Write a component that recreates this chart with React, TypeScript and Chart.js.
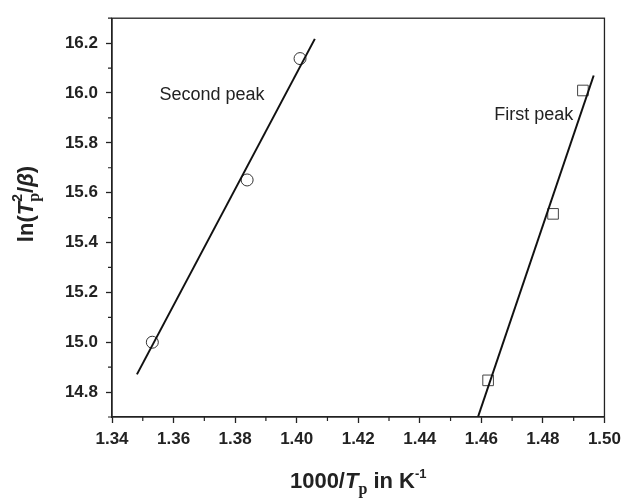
import React, { useEffect, useRef } from "react";
import { Chart, registerables } from "chart.js";

Chart.register(...registerables);

// Measured data points
const SECOND_X = [1.3531, 1.3839, 1.4011];
const SECOND_Y = [15.0, 15.651, 16.138];
const FIRST_X = [1.4622, 1.4833, 1.493];
const FIRST_Y = [14.847, 15.515, 16.01];

// Linear fit lines (end points)
const SECOND_FIT_X = [1.3481, 1.4059];
const SECOND_FIT_Y = [14.871, 16.217];
const FIRST_FIT_X = [1.4589, 1.4965];
const FIRST_FIT_Y = [14.7, 16.07];

// Axis ticks
const X_MAJOR = [1.34, 1.36, 1.38, 1.4, 1.42, 1.44, 1.46, 1.48, 1.5];
const X_MINOR = [1.35, 1.37, 1.39, 1.41, 1.43, 1.45, 1.47, 1.49];
const Y_MAJOR = [14.8, 15.0, 15.2, 15.4, 15.6, 15.8, 16.0, 16.2];
const Y_MINOR = [14.7, 14.9, 15.1, 15.3, 15.5, 15.7, 15.9, 16.1, 16.3];

// Annotations
const LABELS = [
  { text: "Second peak", x: 1.3554, y: 15.97 },
  { text: "First peak", x: 1.4642, y: 15.89 },
];

const SANS = "'Liberation Sans', Arial, Helvetica, sans-serif";
const SERIF = "'Liberation Serif', 'Times New Roman', serif";
const INK = "#222";

type Piece = { t: string; font: string; dy: number; stackWithNext?: boolean };

function drawPieces(ctx: CanvasRenderingContext2D, pieces: Piece[], x0: number, y0: number) {
  let x = x0;
  let i = 0;
  while (i < pieces.length) {
    const p = pieces[i];
    ctx.font = p.font;
    const w = ctx.measureText(p.t).width;
    ctx.fillText(p.t, x, y0 + p.dy);
    if (p.stackWithNext && i + 1 < pieces.length) {
      const q = pieces[i + 1];
      ctx.font = q.font;
      const w2 = ctx.measureText(q.t).width;
      ctx.fillText(q.t, x, y0 + q.dy);
      x += Math.max(w, w2);
      i += 2;
    } else {
      x += w;
      i += 1;
    }
  }
  return x - x0;
}

function measurePieces(ctx: CanvasRenderingContext2D, pieces: Piece[]) {
  let total = 0;
  let i = 0;
  while (i < pieces.length) {
    const p = pieces[i];
    ctx.font = p.font;
    const w = ctx.measureText(p.t).width;
    if (p.stackWithNext && i + 1 < pieces.length) {
      ctx.font = pieces[i + 1].font;
      const w2 = ctx.measureText(pieces[i + 1].t).width;
      total += Math.max(w, w2);
      i += 2;
    } else {
      total += w;
      i += 1;
    }
  }
  return total;
}

const decorPlugin = {
  id: "decor",
  afterDraw(chart: any) {
    const { ctx, chartArea, scales } = chart;
    const xs = scales.x;
    const ys = scales.y;
    ctx.save();
    // frame
    ctx.strokeStyle = INK;
    ctx.lineWidth = 1.3;
    ctx.strokeRect(chartArea.left, chartArea.top, chartArea.right - chartArea.left, chartArea.bottom - chartArea.top);
    // minor ticks
    ctx.lineWidth = 1.2;
    ctx.beginPath();
    X_MINOR.forEach((v) => {
      const px = xs.getPixelForValue(v);
      ctx.moveTo(px, chartArea.bottom);
      ctx.lineTo(px, chartArea.bottom + 4);
    });
    Y_MINOR.forEach((v) => {
      const py = ys.getPixelForValue(v);
      ctx.moveTo(chartArea.left, py);
      ctx.lineTo(chartArea.left - 4, py);
    });
    ctx.stroke();

    // annotations
    ctx.fillStyle = INK;
    ctx.textBaseline = "alphabetic";
    ctx.textAlign = "left";
    ctx.font = `18px ${SANS}`;
    LABELS.forEach((l) => {
      ctx.fillText(l.text, xs.getPixelForValue(l.x), ys.getPixelForValue(l.y));
    });

    // x title: 1000/T_p in K^-1
    const xPieces: Piece[] = [
      { t: "1000/", font: `bold 22px ${SANS}`, dy: 0 },
      { t: "T", font: `italic bold 22px ${SANS}`, dy: 0 },
      { t: "p", font: `bold 16px ${SERIF}`, dy: 6 },
      { t: " in K", font: `bold 22px ${SANS}`, dy: 0 },
      { t: "-1", font: `bold 13px ${SANS}`, dy: -10 },
    ];
    const xw = measurePieces(ctx, xPieces);
    const xc = (chartArea.left + chartArea.right) / 2;
    drawPieces(ctx, xPieces, xc - xw / 2, 488);

    // y title: ln(T_p^2/β)
    const yPieces: Piece[] = [
      { t: "ln(", font: `bold 22px ${SANS}`, dy: 0 },
      { t: "T", font: `italic bold 22px ${SANS}`, dy: 0 },
      { t: "p", font: `bold 16px ${SERIF}`, dy: 6, stackWithNext: true },
      { t: "2", font: `bold 14px ${SANS}`, dy: -11 },
      { t: "/", font: `bold 22px ${SANS}`, dy: 0 },
      { t: "β", font: `italic bold 22px ${SANS}`, dy: 0 },
      { t: ")", font: `bold 22px ${SANS}`, dy: 0 },
    ];
    const yw = measurePieces(ctx, yPieces);
    const yc = 204;
    ctx.translate(33, yc + yw / 2);
    ctx.rotate(-Math.PI / 2);
    drawPieces(ctx, yPieces, 0, 0);
    ctx.restore();
  },
};

export default function App() {
  const ref = useRef<HTMLCanvasElement | null>(null);

  useEffect(() => {
    if (!ref.current) return;
    const pts = (xs: number[], ys: number[]) => xs.map((x, i) => ({ x, y: ys[i] }));
    const chart = new Chart(ref.current, {
      type: "scatter",
      data: {
        datasets: [
          {
            label: "Second peak fit",
            data: pts(SECOND_FIT_X, SECOND_FIT_Y),
            showLine: true,
            borderColor: "#111",
            borderWidth: 2,
            pointRadius: 0,
          },
          {
            label: "First peak fit",
            data: pts(FIRST_FIT_X, FIRST_FIT_Y),
            showLine: true,
            borderColor: "#111",
            borderWidth: 2,
            pointRadius: 0,
          },
          {
            label: "Second peak",
            data: pts(SECOND_X, SECOND_Y),
            pointStyle: "circle",
            pointRadius: 6,
            borderWidth: 1,
            borderColor: "#333",
            backgroundColor: "rgba(0,0,0,0)",
          },
          {
            label: "First peak",
            data: pts(FIRST_X, FIRST_Y),
            pointStyle: "rect",
            pointRadius: 7.5,
            borderWidth: 1,
            borderColor: "#444",
            backgroundColor: "rgba(0,0,0,0)",
          },
        ],
      },
      options: {
        responsive: false,
        animation: false,
        devicePixelRatio: 1,
        layout: { padding: { left: 0, top: 12, right: 19, bottom: 0 } },
        plugins: { legend: { display: false }, tooltip: { enabled: false } },
        scales: {
          x: {
            type: "linear",
            min: 1.34,
            max: 1.5,
            afterBuildTicks: (s: any) => {
              s.ticks = X_MAJOR.map((value) => ({ value }));
            },
            afterFit: (s: any) => {
              s.height = 81;
            },
            grid: {
              drawOnChartArea: false,
              drawTicks: true,
              tickLength: 6,
              tickColor: INK,
              tickWidth: 1.3,
            },
            border: { display: true, color: INK, width: 1.3 },
            ticks: {
              color: INK,
              padding: 6,
              maxRotation: 0,
              autoSkip: false,
              font: { family: SANS, size: 17, weight: "bold" },
              callback: (v: any) => Number(v).toFixed(2),
            },
          },
          y: {
            type: "linear",
            min: 14.7,
            max: 16.3,
            afterBuildTicks: (s: any) => {
              s.ticks = Y_MAJOR.map((value) => ({ value }));
            },
            afterFit: (s: any) => {
              s.width = 112;
            },
            grid: {
              drawOnChartArea: false,
              drawTicks: true,
              tickLength: 6,
              tickColor: INK,
              tickWidth: 1.3,
            },
            border: { display: true, color: INK, width: 1.3 },
            ticks: {
              color: INK,
              padding: 8,
              autoSkip: false,
              font: { family: SANS, size: 17, weight: "bold" },
              callback: (v: any) => Number(v).toFixed(1),
            },
          },
        },
      },
      plugins: [decorPlugin],
    });
    return () => chart.destroy();
  }, []);

  return (
    <div style={{ position: "fixed", left: 0, top: 0, width: 627, height: 498, background: "#fff" }}>
      <canvas ref={ref} width={627} height={498} style={{ display: "block" }} />
    </div>
  );
}
